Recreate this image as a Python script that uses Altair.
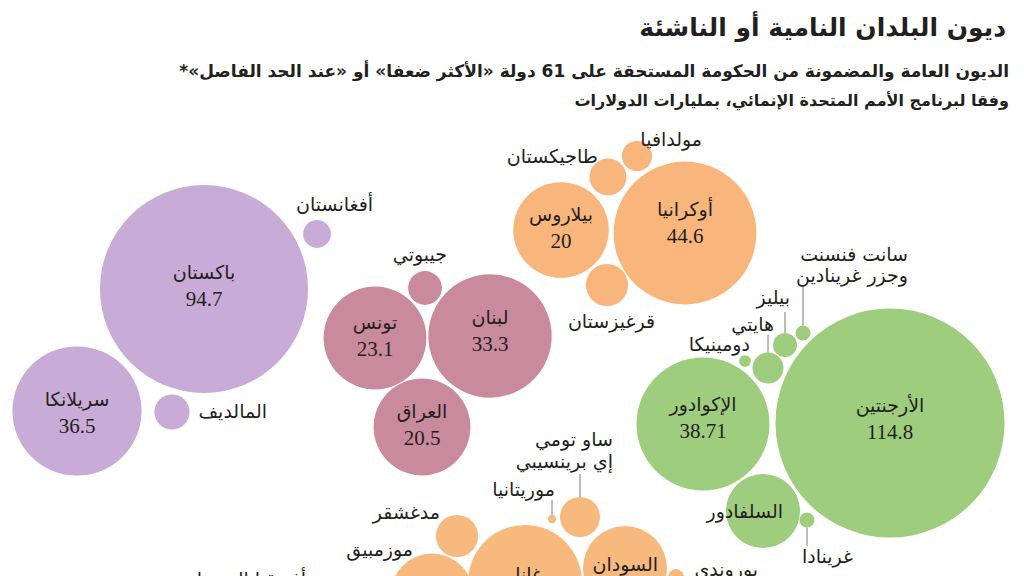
import math
import altair as alt
import pandas as pd

# ---- data ----
countries = ["باكستان", "سريلانكا", "المالديف", "أفغانستان",
             "لبنان", "تونس", "العراق", "جيبوتي",
             "أوكرانيا", "بيلاروس", "طاجيكستان", "مولدافيا", "قرغيزستان",
             "الأرجنتين", "الإكوادور", "السلفادور", "غرينادا", "هايتي", "بيليز",
             "سانت فنسنت وجزر غرينادين", "دومينيكا",
             "غانا", "السودان", "بوروندي", "موزمبيق", "مدغشقر", "موريتانيا",
             "ساو تومي إي برينسيبي"]
values = [94.7, 36.5, 2.7, 1.7,
          33.3, 23.1, 20.5, 2.5,
          44.6, 20, 3.0, 2.0, 3.9,
          114.8, 38.71, 12.0, 0.5, 2.1, 1.26, 0.5, 0.3,
          28.4, 15.4, 0.55, 15.0, 3.9, 0.15, 3.5]
groups = ["asia"] * 4 + ["mena"] * 4 + ["europe"] * 5 + ["latam"] * 8 + ["africa"] * 7
# packed-layout centres (pixels)
pack_x = [204, 77, 172, 317,
          490, 375, 422, 425,
          685, 561, 608, 637, 607,
          890, 703, 763, 807, 768, 785, 803, 745,
          525, 625, 676, 432, 457, 552, 580]
pack_y = [289, 411, 412, 234,
          336, 338, 427, 288,
          233, 230, 177, 156, 285,
          423, 424, 511, 520, 368, 345, 333, 361,
          582, 568, 577, 595, 536, 519, 517]

group_domain = ["asia", "mena", "europe", "latam", "africa"]
group_colors = ["#c8abd6", "#c98a9d", "#f9b67c", "#9fcd7e", "#f8b97f"]

# labels inside circles: country, name-line y
inside_country = ["باكستان", "سريلانكا", "لبنان", "تونس", "العراق", "أوكرانيا", "بيلاروس",
                  "الأرجنتين", "الإكوادور"]
inside_name_y = [273, 400, 318, 323, 412, 210, 215, 406, 405]

# labels outside circles: text, x (right edge), y
outside_text = ["أفغانستان", "المالديف", "جيبوتي", "مولدافيا", "طاجيكستان", "قرغيزستان",
                "سانت فنسنت", "وجزر غرينادين", "بيليز", "هايتي", "دومينيكا",
                "السلفادور", "غرينادا",
                "ساو تومي", "إي برينسيبي", "موريتانيا", "مدغشقر", "موزمبيق",
                "جمهورية أفريقيا الوسطى", "السودان", "غانا", "بوروندي"]
outside_x = [373, 267, 447, 702, 598, 655,
             908, 908, 790, 774, 750,
             783, 853,
             613, 613, 555, 440, 413,
             378, 658, 542, 758]
outside_y = [205, 412, 255, 140, 157, 322,
             255, 276, 298, 325, 345,
             512, 557,
             440, 462, 490, 513, 550,
             580, 565, 575, 570]

# leader lines: country, far end y
leader_country = ["سانت فنسنت وجزر غرينادين", "بيليز", "هايتي", "ساو تومي إي برينسيبي",
                  "موريتانيا", "غرينادا"]
leader_end_y = [287, 312, 335, 474, 500, 546]

title_text = "ديون البلدان النامية أو الناشئة"
subtitle_lines = ["الديون العامة والمضمونة من الحكومة المستحقة على 61 دولة «الأكثر ضعفا» أو «عند الحد الفاصل»*\u200f",
                  "وفقا لبرنامج الأمم المتحدة الإنمائي، بمليارات الدولارات"]

# ---- build tables ----
K = 10.69  # px of radius per sqrt(billion $)
vmax = max(values)
df = pd.DataFrame(dict(country=countries, value=values, group=groups, x=pack_x, y=pack_y))
df["r"] = K * df["value"] ** 0.5
lookup = df.set_index("country")

inside = pd.DataFrame(dict(country=inside_country, y=inside_name_y))
inside["x"] = [lookup.loc[c, "x"] for c in inside_country]
inside["val"] = [f"{lookup.loc[c, 'value']:g}" for c in inside_country]

outside = pd.DataFrame(dict(t=outside_text, x=outside_x, y=outside_y))

rows = []
for c, ye in zip(leader_country, leader_end_y):
    cx, cy, r = lookup.loc[c, "x"], lookup.loc[c, "y"], lookup.loc[c, "r"]
    edge = cy - r if ye < cy else cy + r
    rows.append(dict(x=cx, y=ye, y2=edge))
leaders = pd.DataFrame(rows)

xs = alt.Scale(domain=[0, 1024], nice=False, zero=False)
ys = alt.Scale(domain=[0, 576], nice=False, zero=False, reverse=True)
X = alt.X("x:Q", scale=xs, axis=None)
Y = alt.Y("y:Q", scale=ys, axis=None)

# Vega circle symbol: radius = sqrt(size) / 2  ->  size = 4 r^2
circles = alt.Chart(df).mark_circle(opacity=1, strokeWidth=0).encode(
    x=X, y=Y,
    size=alt.Size("value:Q", scale=alt.Scale(type="linear", domain=[0, vmax],
                                             range=[0, 4 * K * K * vmax]), legend=None),
    color=alt.Color("group:N", scale=alt.Scale(domain=group_domain, range=group_colors), legend=None),
)

rules = alt.Chart(leaders).mark_rule(color="#7a7a7a", strokeWidth=1).encode(
    x=X, y=Y, y2="y2:Q")

TXT = "#231f20"
ARAB = "DejaVu Sans"

names_in = alt.Chart(inside).mark_text(font=ARAB, fontSize=19, color=TXT, baseline="middle",
                                       align="center").encode(x=X, y=Y, text="country:N")
vals_in = alt.Chart(inside).mark_text(font="Liberation Serif", fontSize=21, color=TXT,
                                      baseline="middle", align="center", dy=27).encode(
    x=X, y=Y, text="val:N")

labels_out = alt.Chart(outside).mark_text(font=ARAB, fontSize=19, color=TXT, baseline="middle",
                                          align="right").encode(x=X, y=Y, text="t:N")

title_df = pd.DataFrame(dict(t=[title_text], x=[1006], y=[28]))
title = alt.Chart(title_df).mark_text(font=ARAB, fontSize=25, fontWeight="bold", color=TXT,
                                      baseline="middle", align="right").encode(x=X, y=Y, text="t:N")
sub1_df = pd.DataFrame(dict(t=subtitle_lines[:1], x=[1009], y=[72]))
sub1 = alt.Chart(sub1_df).mark_text(font=ARAB, fontSize=17, fontWeight="bold", color=TXT,
                                    baseline="middle", align="right").encode(x=X, y=Y, text="t:N")
sub2_df = pd.DataFrame(dict(t=subtitle_lines[1:], x=[1009], y=[101]))
sub2 = alt.Chart(sub2_df).mark_text(font=ARAB, fontSize=16, fontWeight="bold", color=TXT,
                                    baseline="middle", align="right").encode(x=X, y=Y, text="t:N")

chart = alt.layer(circles, rules, names_in, vals_in, labels_out, title, sub1, sub2).properties(
    width=1024, height=576, padding=0, autosize="none", background="white"
).configure_view(stroke=None)

chart.save("out.html", embed_options={"renderer": "svg", "actions": False})
